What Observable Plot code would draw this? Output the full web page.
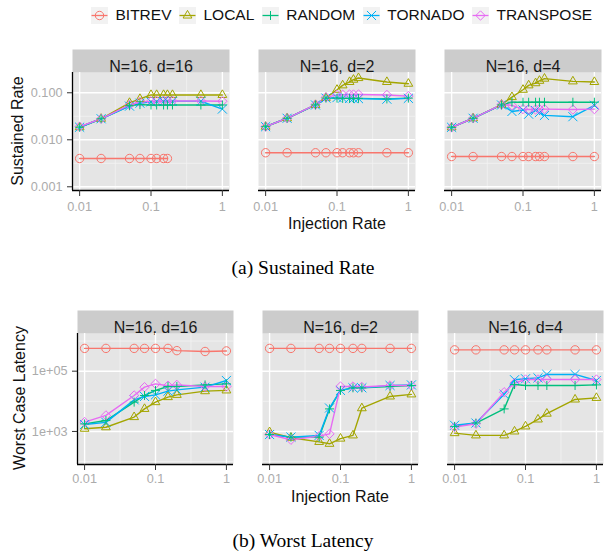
<!DOCTYPE html>
<html>
<head>
<meta charset="utf-8">
<script src="https://cdn.jsdelivr.net/npm/d3@7"></script>
<script src="https://cdn.jsdelivr.net/npm/@observablehq/plot@0.6"></script>
<style>
  html, body { margin: 0; padding: 0; background: #fff; }
  body { width: 605px; height: 554px; position: relative; overflow: hidden; font-family: "Liberation Sans", Arial, sans-serif; }
  #legend { position: absolute; left: 91px; top: 6px; height: 18px; display: flex; align-items: center; font-size: 15.5px; color: #111; }
  #legend .item { display: flex; align-items: center; margin-right: 7.5px; }
  #legend svg { display: block; margin-right: 7.5px; }
  .chart { position: absolute; left: 0; }
  .title { position: absolute; transform: translate(-50%, -50%); font-size: 16px; color: #111; white-space: nowrap; }
  .ytitle { position: absolute; transform: translate(-50%, -50%) rotate(-90deg); font-size: 16px; color: #111; white-space: nowrap; }
  .cap { position: absolute; transform: translate(-50%, -50%); font-family: "Liberation Serif", "Times New Roman", serif; font-size: 19.5px; color: #000; white-space: nowrap; }
  g[aria-label="y-axis tick label"], g[aria-label="x-axis tick label"] { fill: #ababab; }
  g[aria-label="y-axis tick"], g[aria-label="x-axis tick"] { stroke: #333; }
</style>
</head>
<body>
<div id="legend"></div>
<div id="c1" class="chart" style="top:40px"></div>
<div class="ytitle" style="left:18px; top:131px">Sustained Rate</div>
<div class="title" style="left:337px; top:224px">Injection Rate</div>
<div class="cap" style="left:303px; top:268px">(a) Sustained Rate</div>
<div id="c2" class="chart" style="top:301px"></div>
<div class="ytitle" style="left:20px; top:398px">Worst Case Latency</div>
<div class="title" style="left:340px; top:497px">Injection Rate</div>
<div class="cap" style="left:303px; top:541px">(b) Worst Latency</div>
<script>
// ---------- data ----------
const series = ["BITREV", "LOCAL", "RANDOM", "TORNADO", "TRANSPOSE"];
const colors = ["#F8766D", "#A3A500", "#00BF7D", "#00B0F6", "#E76BF3"];
const symbols = ["circle", "triangle2", "plus", "times", "diamond2"];
const facets = ["N=16, d=16", "N=16, d=2", "N=16, d=4"];

const sustX = [0.01, 0.02, 0.05, 0.07, 0.1, 0.12, 0.15, 0.17, 0.2, 0.5, 1];
const latX = [0.01, 0.02, 0.05, 0.07, 0.1, 0.15, 0.2, 0.5, 1];

const xTicks = [0.01, 0.1, 1];
const xTickLabels = ["0.01", "0.1", "1"];
const xMinor = [0.0316, 0.316];
const sustTicksY = [0.001, 0.01, 0.1];
const sustTickLabels = ["0.001", "0.010", "0.100"];
const sustMinorY = [0.00316, 0.0316];
const latTicksY = [1e3, 1e5];
const latTickLabels = ["1e+03", "1e+05"];
const latMinorY = [1e2, 1e4, 1e6];

// Sustained rate, rows in series order (BITREV, LOCAL, RANDOM, TORNADO, TRANSPOSE)
const sustD16 = [
  [0.004, 0.004, 0.004, 0.004, 0.004, 0.004, 0.004, 0.004, null, null, null],
  [0.0185, 0.028, 0.061, 0.074, 0.09, 0.09, 0.09, 0.09, 0.09, 0.09, 0.09],
  [0.0185, 0.028, 0.053, 0.056, 0.055, 0.055, 0.055, 0.055, 0.055, 0.055, 0.055],
  [0.0185, 0.028, 0.052, 0.06, 0.064, 0.065, 0.065, 0.066, 0.066, 0.066, 0.045],
  [0.019, 0.028, 0.055, 0.064, 0.066, 0.067, 0.067, 0.067, 0.067, 0.067, 0.066]
];
const sustD2 = [
  [0.0053, 0.0053, 0.0053, 0.0053, 0.0053, 0.0053, 0.0053, 0.0053, 0.0053, 0.0053, 0.0053],
  [0.019, 0.0287, 0.055, 0.078, 0.116, 0.144, 0.17, 0.19, 0.206, 0.17, 0.156],
  [0.019, 0.0287, 0.055, 0.077, 0.077, 0.076, 0.076, 0.076, 0.076, 0.074, 0.077],
  [0.019, 0.0287, 0.055, 0.077, 0.079, 0.077, 0.076, 0.075, 0.075, 0.073, 0.076],
  [0.019, 0.0287, 0.056, 0.08, 0.09, 0.091, 0.092, 0.092, 0.092, 0.09, 0.085]
];
const sustD4 = [
  [0.0044, 0.0044, 0.0044, 0.0044, 0.0044, 0.0044, 0.0044, 0.0044, 0.0044, 0.0044, 0.0044],
  [0.0184, 0.0287, 0.056, 0.081, 0.116, 0.144, 0.16, 0.18, 0.2, 0.175, 0.17],
  [0.0184, 0.0287, 0.055, 0.063, 0.063, 0.063, 0.063, 0.063, 0.063, 0.063, 0.063],
  [0.0184, 0.0287, 0.055, 0.04, 0.043, 0.035, 0.042, 0.038, 0.033, 0.031, 0.054],
  [0.0184, 0.0287, 0.056, 0.054, 0.045, 0.044, 0.044, 0.045, 0.045, 0.044, 0.045]
];

// Worst case latency, rows in series order
const latD16 = [
  [5.7e5, 5.7e5, 5.7e5, 5.7e5, 5.7e5, 5.7e5, 4.8e5, 4.5e5, 4.7e5],
  [1230, 1380, 3000, 5600, 9400, 13800, 16400, 21700, 23000],
  [1780, 2300, 9400, 15600, 23000, 31000, 31000, 35000, 38000],
  [1700, 2000, 11200, 14500, 16400, 21700, 24000, 29500, 49000],
  [2050, 3400, 15600, 29500, 38000, 33000, 35000, 31000, 31000]
];
const latD2 = [
  [5.7e5, 5.7e5, 5.7e5, 5.7e5, 5.7e5, 5.7e5, 5.7e5, 5.7e5, 5.7e5],
  [950, 620, 450, 390, 580, 740, 5900, 14500, 17000],
  [790, 650, 650, 5600, 23000, 28000, 28000, 31000, 33500],
  [790, 650, 740, 6000, 23000, 28000, 28000, 33500, 35000],
  [790, 530, 700, 830, 31000, 31000, 30000, 33500, 33500]
];
const latD4 = [
  [5.1e5, 5.1e5, 5.1e5, 5.1e5, 5.1e5, 5.1e5, 5.1e5, 5.1e5, 5.1e5],
  [880, 740, 740, 1000, 1470, 2500, 3900, 11500, 13000],
  [1470, 1900, 5600, 36000, 33500, 33500, 33500, 33500, 35000],
  [1600, 1900, 17000, 52000, 56000, 60000, 78000, 78000, 49000],
  [1400, 1800, 20000, 40000, 53000, 53000, 53000, 53000, 53000]
];

// ---------- build tables ----------
function buildTable(xs, perFacet) {
  const rows = [];
  perFacet.forEach((arrs, fi) => {
    arrs.forEach((vals, si) => {
      vals.forEach((v, i) => {
        if (v != null) rows.push({facet: facets[fi], series: series[si], x: xs[i], y: v});
      });
    });
  });
  return rows;
}
const sustTable = buildTable(sustX, [sustD16, sustD2, sustD4]);
const latTable = buildTable(latX, [latD16, latD2, latD4]);

const xDomain = [Math.pow(10, -2.1), Math.pow(10, 0.1)];

function chart(o) {
  const mt = 32, mb = o.mb;
  const frameH = o.height - mt - mb;
  return Plot.plot({
    width: 605,
    height: o.height,
    marginTop: mt,
    marginBottom: mb,
    marginLeft: o.ml,
    marginRight: o.mr,
    style: {fontFamily: "Liberation Sans, Arial, sans-serif", background: "transparent", overflow: "visible"},
    fx: {domain: facets, paddingInner: 0.155, paddingOuter: 0, axis: null, label: null},
    x: {type: "log", domain: xDomain},
    y: {type: "log", domain: o.yDomain},
    color: {domain: series, range: colors},
    symbol: {domain: series, range: symbols},
    r: {type: "identity"},
    marks: [
      Plot.frame({fill: "#e5e5e5"}),
      Plot.frame({fill: "#cccccc", insetTop: -23, insetBottom: frameH}),
      Plot.text(facets, {fx: d => d, text: d => d, frameAnchor: "top", dy: -11.5, fontSize: 16, fill: "#1a1a1a"}),
      Plot.ruleY(o.yMinor, {stroke: "#f2f2f2", strokeWidth: 0.8}),
      Plot.ruleX(xMinor, {stroke: "#f2f2f2", strokeWidth: 0.8}),
      Plot.ruleY(o.yTicks, {stroke: "white", strokeWidth: 1.4}),
      Plot.ruleX(xTicks, {stroke: "white", strokeWidth: 1.4}),
      Plot.line(o.table, {fx: "facet", x: "x", y: "y", z: "series", stroke: "series", strokeWidth: 1.4}),
      Plot.dot(o.table, {fx: "facet", x: "x", y: "y", symbol: "series", stroke: "series", fill: "none",
        r: d => d.series === "RANDOM" ? 3 : 4.2, strokeWidth: 1}),
      Plot.ruleY([o.yDomain[0]], {stroke: "black", strokeWidth: 1.3}),
      Plot.ruleX([facets[0]], {fx: d => d, x: () => xDomain[0], stroke: "black", strokeWidth: 1.3}),
      Plot.axisY({ticks: o.yTicks, tickFormat: d => o.yLabels[o.yTicks.indexOf(d)], tickSize: 5, tickPadding: 5,
        fontSize: 12.7, stroke: "#333", fill: "#ababab", label: null}),
      Plot.axisX({ticks: xTicks, tickFormat: d => xTickLabels[xTicks.indexOf(d)], tickSize: 6, tickPadding: o.xpad,
        fontSize: 12.7, stroke: "#333", fill: "#ababab", label: null})
    ]
  });
}

document.getElementById("c1").append(chart({
  height: 196, mb: 46, ml: 71, mr: 2, table: sustTable, xpad: 5,
  yDomain: [0.000834, 0.27], yTicks: sustTicksY, yLabels: sustTickLabels, yMinor: sustMinorY
}));
document.getElementById("c2").append(chart({
  height: 212, mb: 49, ml: 76, mr: 1, table: latTable, xpad: 3,
  yDomain: [80, 1.78e6], yTicks: latTicksY, yLabels: latTickLabels, yMinor: latMinorY
}));

// ---------- legend ----------
const d3Symbols = [d3.symbolCircle, d3.symbolTriangle2, d3.symbolPlus, d3.symbolTimes, d3.symbolDiamond2];
const legend = document.getElementById("legend");
series.forEach((s, i) => {
  const item = document.createElement("div");
  item.className = "item";
  const svg = d3.create("svg").attr("width", 17).attr("height", 17);
  svg.append("rect").attr("width", 17).attr("height", 17).attr("fill", "#f2f2f2");
  svg.append("line").attr("x1", 0.5).attr("x2", 16.5).attr("y1", 8.5).attr("y2", 8.5)
    .attr("stroke", colors[i]).attr("stroke-width", 1.3);
  const rr = s === "RANDOM" ? 3 : 4.2;
  svg.append("path").attr("transform", "translate(8.5,8.5)")
    .attr("d", d3.symbol(d3Symbols[i], rr * rr * Math.PI)())
    .attr("fill", "none").attr("stroke", colors[i]).attr("stroke-width", 1);
  item.append(svg.node());
  const span = document.createElement("span");
  span.textContent = s;
  item.append(span);
  legend.append(item);
});
</script>
</body>
</html>
